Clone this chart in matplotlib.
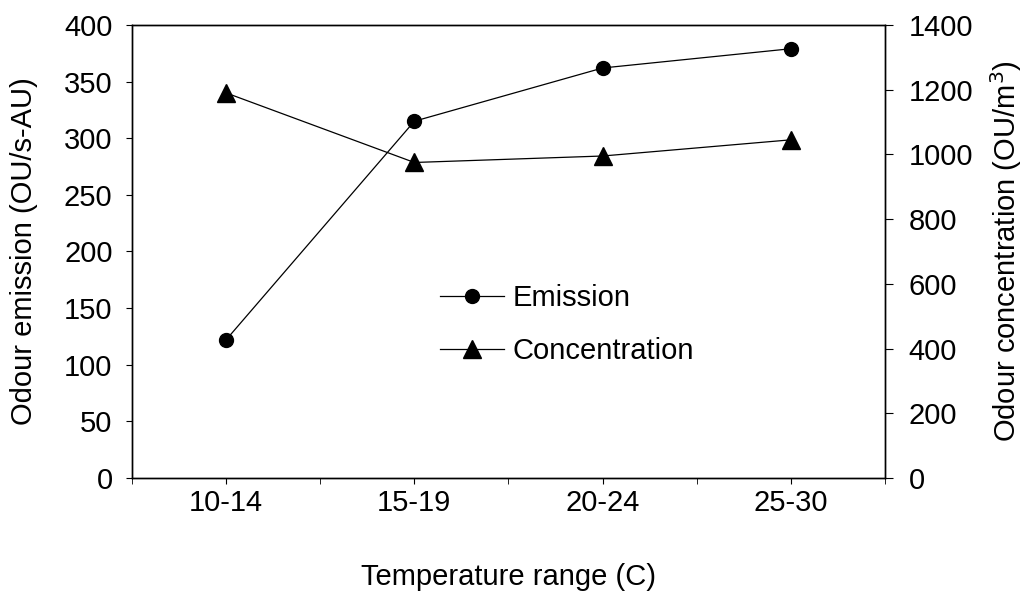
import matplotlib
matplotlib.use("Agg")
import matplotlib.pyplot as plt

plt.rcParams['font.family'] = ['Liberation Sans', 'DejaVu Sans']

categories = ["10-14", "15-19", "20-24", "25-30"]
emission = [122, 315, 362, 379]
concentration = [1190, 975, 995, 1045]

fs = 21

fig = plt.figure(figsize=(10.27, 5.94), dpi=100)
ax = fig.add_axes([0.1285, 0.1953, 0.7332, 0.7627])
ax2 = ax.twinx()

x = [i + 0.5 for i in range(len(categories))]
l1, = ax.plot(x, emission, color="black", lw=0.9, marker="o", ms=10,
              label="Emission")
l2, = ax2.plot(x, concentration, color="black", lw=0.9, marker="^", ms=13,
               label="Concentration")

ax.set_xlim(0, 4)
ax.set_ylim(0, 400)
ax.set_yticks(range(0, 401, 50))
ax2.set_ylim(0, 1400)
ax2.set_yticks(range(0, 1401, 200))

# labels on the categories, extra ticks on the boundaries between them
ax.set_xticks(x)
ax.set_xticklabels(categories)
ax.set_xticks(range(5), minor=True)
ax.tick_params(axis="x", which="both", length=4, direction="out",
               labelsize=fs, pad=4)
ax.tick_params(axis="y", length=4, direction="out", labelsize=fs, pad=10)
ax2.tick_params(axis="y", length=6, direction="out", labelsize=fs, pad=11)

for a in (ax, ax2):
    for s in a.spines.values():
        s.set_linewidth(1.0)

ax.set_xlabel("Temperature range (C)", fontsize=fs, labelpad=33)
ax.set_ylabel("Odour emission (OU/s-AU)", fontsize=fs, labelpad=19)
ax2.set_ylabel("Odour concentration (OU/m$^3$)", fontsize=fs, labelpad=11)

ax.legend([l1, l2], ["Emission", "Concentration"], frameon=False,
          fontsize=fs, loc="center left", bbox_to_anchor=(0.409, 0.338),
          borderpad=0, borderaxespad=0,
          handlelength=2.2, labelspacing=0.85, handletextpad=0.28)

fig.savefig("out.png", dpi=100)
